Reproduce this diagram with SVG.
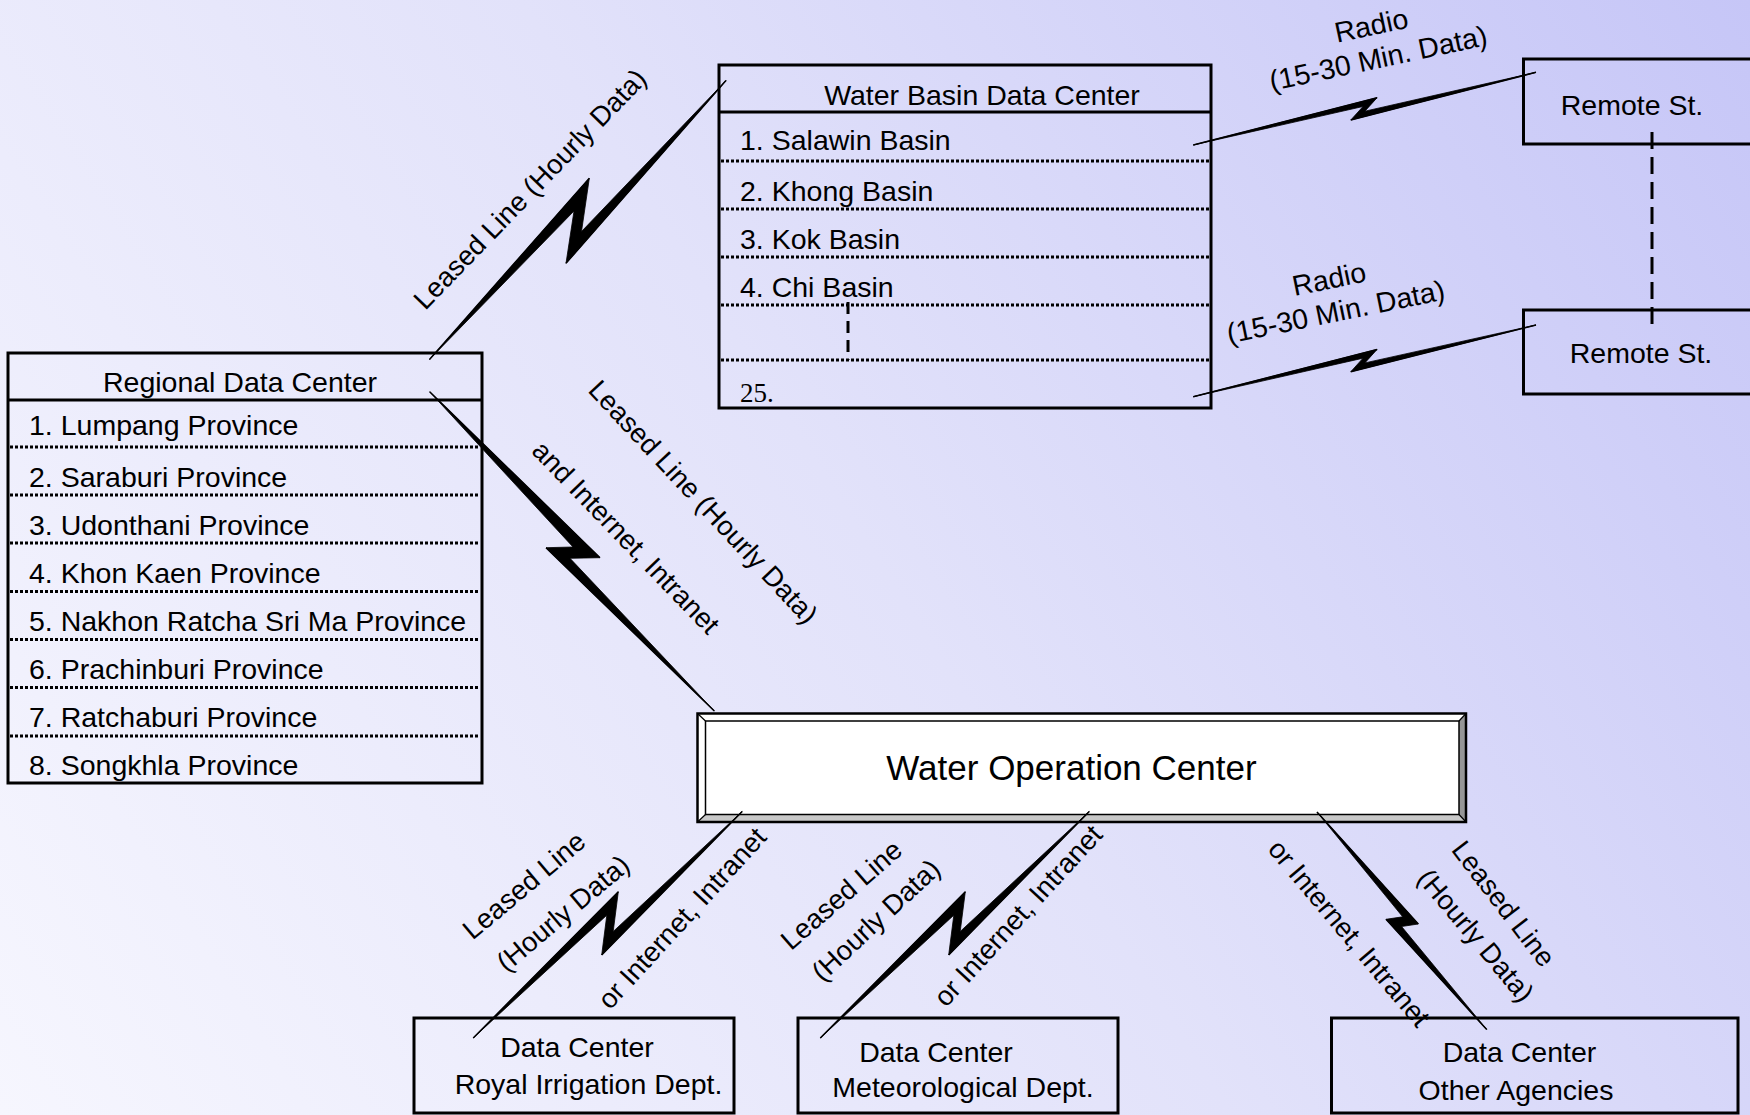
<svg xmlns="http://www.w3.org/2000/svg" width="1750" height="1115" viewBox="0 0 1750 1115">
<defs>
<linearGradient id="bg" gradientUnits="userSpaceOnUse" x1="0" y1="1115" x2="1750" y2="0">
<stop offset="0" stop-color="#f6f6fe"/>
<stop offset="0.5" stop-color="#e2e2fa"/>
<stop offset="1" stop-color="#c6c6f7"/>
</linearGradient>
<style>
.t{font-family:"Liberation Sans",Arial,sans-serif;font-size:28.5px;fill:#000}
.lbl{font-size:27.5px}
.serif{font-family:"Liberation Serif","Times New Roman",serif;font-size:27px}
.box{fill:none;stroke:#000;stroke-width:3}
.dot{stroke:#000;stroke-width:3;stroke-dasharray:3 2;fill:none}
.dash{stroke:#000;stroke-width:3;stroke-dasharray:12 7;fill:none}
.ln{stroke:#000;stroke-width:1.5;fill:none}
.bolt{fill:#000;stroke:#000;stroke-width:0.8;stroke-linejoin:miter}
</style>
</defs>
<rect x="0" y="0" width="1750" height="1115" fill="url(#bg)"/>

<g id="regional">
<rect class="box" x="8" y="353" width="474" height="430"/>
<line x1="8" y1="400" x2="482" y2="400" stroke="#000" stroke-width="3"/>
<path class="dot" d="M10,447 H480 M10,495 H480 M10,543 H480 M10,591.5 H480 M10,639.5 H480 M10,687.5 H480 M10,736 H480"/>
<text class="t" x="240" y="392" text-anchor="middle">Regional Data Center</text>
<text class="t" x="29" y="435">1. Lumpang Province</text>
<text class="t" x="29" y="487">2. Saraburi Province</text>
<text class="t" x="29" y="535">3. Udonthani Province</text>
<text class="t" x="29" y="583">4. Khon Kaen Province</text>
<text class="t" x="29" y="631">5. Nakhon Ratcha Sri Ma Province</text>
<text class="t" x="29" y="679">6. Prachinburi Province</text>
<text class="t" x="29" y="727">7. Ratchaburi Province</text>
<text class="t" x="29" y="775">8. Songkhla Province</text>
</g>

<g id="waterbasin">
<rect class="box" x="719" y="65" width="492" height="343"/>
<line x1="719" y1="112" x2="1211" y2="112" stroke="#000" stroke-width="3"/>
<path class="dot" d="M721,161 H1209 M721,209 H1209 M721,257 H1209 M721,305 H1209 M721,360 H1209"/>
<line class="dash" x1="848" y1="302" x2="848" y2="360"/>
<text class="t" x="982" y="105" text-anchor="middle">Water Basin Data Center</text>
<text class="t" x="740" y="150">1. Salawin Basin</text>
<text class="t" x="740" y="201">2. Khong Basin</text>
<text class="t" x="740" y="249">3. Kok Basin</text>
<text class="t" x="740" y="297">4. Chi Basin</text>
<text class="serif" x="740" y="402">25.</text>
</g>

<g id="remote1">
<rect class="box" x="1523.5" y="59" width="300" height="85"/>
<text class="t" x="1632" y="114.5" text-anchor="middle">Remote St.</text>
</g>
<g id="remote2">
<rect class="box" x="1523.5" y="310" width="300" height="84"/>
<text class="t" x="1641" y="362.5" text-anchor="middle">Remote St.</text>
</g>

<g id="woc">
<rect x="697.5" y="713.5" width="768.5" height="108.5" fill="#fff"/>
<polygon points="697.5,822 705.5,814.5 1459,814.5 1466,822" fill="#c8c8c8"/>
<polygon points="1466,713.5 1459,721 1459,814.5 1466,822" fill="#969696"/>
<rect x="705.5" y="721" width="753.5" height="93.5" fill="#fff" stroke="#000" stroke-width="1.5"/>
<path d="M697.5,713.5 L705.5,721 M1466,713.5 L1459,721 M697.5,822 L705.5,814.5 M1466,822 L1459,814.5" stroke="#000" stroke-width="1.2"/>
<rect x="697.5" y="713.5" width="768.5" height="108.5" fill="none" stroke="#000" stroke-width="2.5"/>
<text class="t" x="1071.5" y="780" text-anchor="middle" style="font-size:35px">Water Operation Center</text>
</g>

<g id="rid">
<rect class="box" x="414" y="1018" width="320" height="95"/>
<text class="t" x="577" y="1057" text-anchor="middle">Data Center</text>
<text class="t" x="588.5" y="1093.5" text-anchor="middle">Royal Irrigation Dept.</text>
</g>
<g id="met">
<rect class="box" x="798" y="1018" width="320" height="95"/>
<text class="t" x="936" y="1062" text-anchor="middle">Data Center</text>
<text class="t" x="963" y="1097" text-anchor="middle">Meteorological Dept.</text>
</g>
<g id="other">
<rect class="box" x="1331.5" y="1018" width="406.5" height="95"/>
<text class="t" x="1519.5" y="1062" text-anchor="middle">Data Center</text>
<text class="t" x="1516" y="1100" text-anchor="middle">Other Agencies</text>
</g>

<g id="connectors">
<!-- Regional -> Water Basin -->
<path class="ln" d="M429.5,359.5 L589.3,178.3 M566,263.3 L726,80.5"/>
<polygon class="bolt" points="429.5,359.5 589.3,178.3 581.5,231.5 726,80.5 566,263.3 574,211"/>
<!-- Regional -> Water Operation -->
<path class="ln" d="M429.7,391.8 L600,557.7 M546,547.7 L714.3,711"/>
<polygon class="bolt" points="429.7,391.8 600,557.7 570,558.3 714.3,711 546,547.7 573,547"/>
<!-- Radio 1 -->
<path class="ln" d="M1193.3,145 L1377.1,97.7 M1350.8,120 L1536,72.3"/>
<polygon class="bolt" points="1193.3,145 1377.1,97.7 1364.9,111.2 1536,72.3 1350.8,120 1363,106.5"/>
<!-- Radio 2 -->
<path class="ln" d="M1193.3,396.7 L1377.1,349.4 M1350.8,371.7 L1536,325"/>
<polygon class="bolt" points="1193.3,396.7 1377.1,349.4 1364.9,362.9 1536,325 1350.8,371.7 1363,358.2"/>
<!-- Remote dashed -->
<line x1="1652" y1="132" x2="1652" y2="324" stroke="#000" stroke-width="3" stroke-dasharray="17 8"/>
<!-- WOC -> Royal Irrigation -->
<path class="ln" d="M742.2,811.4 L601.7,955 M618.3,891.7 L473.2,1038"/>
<polygon class="bolt" points="742.2,811.4 601.7,955 606.8,915.2 473.2,1038 618.3,891.7 613.2,931.5"/>
<!-- WOC -> Meteorological -->
<path class="ln" d="M1089.3,811.4 L948.7,955 M965.3,891.7 L820.3,1038"/>
<polygon class="bolt" points="1089.3,811.4 948.7,955 953.8,915.2 820.3,1038 965.3,891.7 960.2,931.5"/>
<!-- WOC -> Other -->
<path class="ln" d="M1317,812 L1418.3,924 M1386,919.3 L1486.7,1029.5"/>
<polygon class="bolt" points="1317,812 1418.3,924 1401.6,926.5 1486.7,1029.5 1386,919.3 1402.7,916.8"/>

<!-- labels -->
<text class="t lbl" text-anchor="middle" transform="translate(536.7,195.6) rotate(-46)">Leased Line (Hourly Data)</text>
<text class="t lbl" text-anchor="middle" transform="translate(619.2,543.9) rotate(46)">and Internet, Intranet</text>
<text class="t lbl" text-anchor="middle" transform="translate(696.4,508.3) rotate(47)">Leased Line (Hourly Data)</text>
<text class="t" text-anchor="middle" transform="translate(1373.3,35.1) rotate(-12)"><tspan x="0" y="0">Radio</tspan><tspan x="0" y="33.5">(15-30 Min. Data)</tspan></text>
<text class="t" text-anchor="middle" transform="translate(1331,288.6) rotate(-11.5)"><tspan x="0" y="0">Radio</tspan><tspan x="0" y="33.5">(15-30 Min. Data)</tspan></text>
<text class="t lbl" text-anchor="middle" transform="translate(530,892.7) rotate(-40)">Leased Line</text>
<text class="t lbl" text-anchor="middle" transform="translate(569,920.5) rotate(-40)">(Hourly Data)</text>
<text class="t lbl" text-anchor="middle" transform="translate(689,924.5) rotate(-47.5)">or Internet, Intranet</text>
<text class="t lbl" text-anchor="middle" transform="translate(847.6,902) rotate(-41)">Leased Line</text>
<text class="t lbl" text-anchor="middle" transform="translate(882.3,927) rotate(-43)">(Hourly Data)</text>
<text class="t lbl" text-anchor="middle" transform="translate(1024.9,922) rotate(-47.5)">or Internet, Intranet</text>
<text class="t lbl" text-anchor="middle" transform="translate(1341.9,939.3) rotate(50)">or Internet, Intranet</text>
<text class="t lbl" text-anchor="middle" transform="translate(1496.1,909.4) rotate(52.5)">Leased Line</text>
<text class="t lbl" text-anchor="middle" transform="translate(1468.6,941.5) rotate(50)">(Hourly Data)</text>
</g>
</svg>
